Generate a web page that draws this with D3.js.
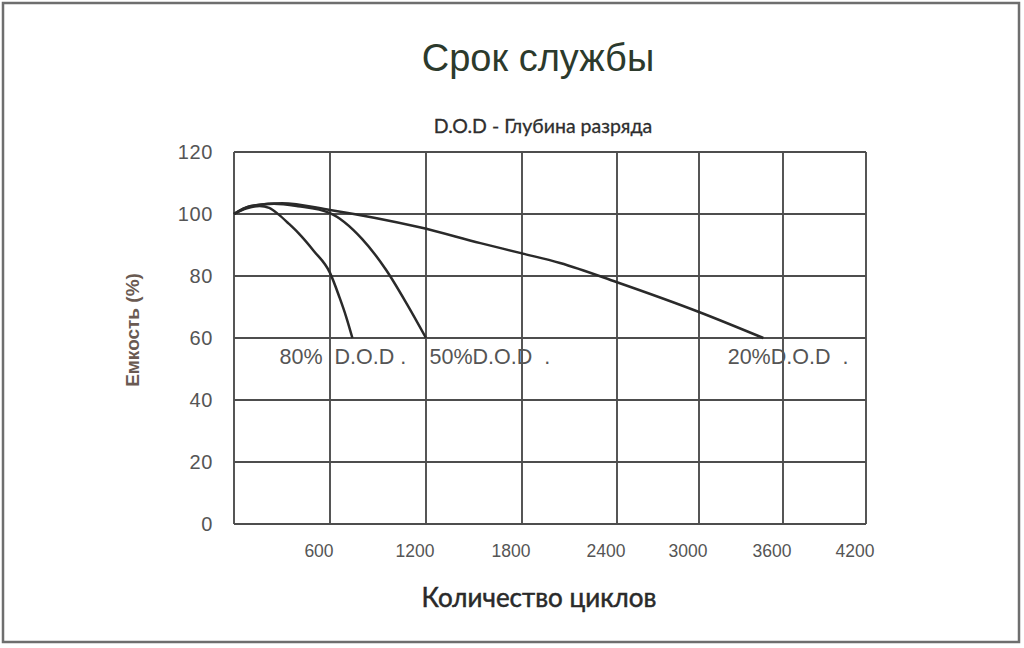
<!DOCTYPE html>
<html>
<head>
<meta charset="utf-8">
<script src="https://cdn.jsdelivr.net/npm/d3@7"></script>
<style>
  body { margin: 0; background: #fff; }
  svg { display: block; }
</style>
</head>
<body>
<svg id="chart" width="1024" height="648"></svg>
<script>
// x tick labels (cycles) and y tick labels (capacity %)
const xTicks = [0, 600, 1200, 1800, 2400, 3000, 3600, 4200];
const yTicks = [0, 20, 40, 60, 80, 100, 120];

// capacity curves: [cycles, capacity %]
const dod80 = [[0, 100], [80, 101.8], [160, 102.6], [220, 102], [280, 99.8], [340, 97], [400, 94], [500, 88], [600, 81], [660, 73], [700, 67], [740, 60]];
const dod50 = [[0, 100], [100, 102.5], [250, 103.3], [400, 102.5], [600, 100.3], [800, 92], [950, 82], [1080, 71], [1200, 60]];
const dod20 = [[0, 100], [100, 102.5], [300, 103.5], [600, 101.3], [1160, 95.7], [1540, 90.6], [1800, 87.3], [2040, 84.2], [2400, 78], [3000, 68.4], [3460, 60]];

const seriesData = [dod80, dod50, dod20];

// curve labels and the cycle value where each one starts
const labelText = ["80%  D.O.D .", "50%D.O.D  .", "20%D.O.D  ."];
const labelStart = [285, 1222, 3205];

const svg = d3.select('#chart');

// outer frame
svg.append('rect')
  .attr('x', 3).attr('y', 3)
  .attr('width', 1016).attr('height', 639)
  .attr('fill', '#fff')
  .attr('stroke', '#6e6e6e')
  .attr('stroke-width', 2.5);

const plotLeft = 234, plotRight = 866, plotTop = 152, plotBottom = 524;

// the grid in the original is not evenly spaced, so map each tick to its column
const colEdges = [0, 96, 192, 288, 383, 465, 549, 632];
const x = d3.scaleLinear()
  .domain(xTicks)
  .range(colEdges.map(d => plotLeft + d));
const y = d3.scaleLinear().domain([0, 120]).range([plotBottom, plotTop]);

const grid = svg.append('g');

grid.selectAll('.hline')
  .data(yTicks)
  .join('line')
  .attr('class', 'hline')
  .attr('x1', plotLeft).attr('x2', plotRight)
  .attr('y1', d => y(d)).attr('y2', d => y(d))
  .attr('stroke', '#4d4d4d')
  .attr('stroke-width', 1.9);

grid.selectAll('.vline')
  .data(xTicks)
  .join('line')
  .attr('class', 'vline')
  .attr('x1', d => x(d)).attr('x2', d => x(d))
  .attr('y1', plotTop).attr('y2', plotBottom)
  .attr('stroke', '#4d4d4d')
  .attr('stroke-width', 1.9);

// tick labels
svg.append('g').selectAll('text')
  .data(yTicks)
  .join('text')
  .attr('x', 213)
  .attr('y', d => y(d) + 7)
  .attr('text-anchor', 'end')
  .attr('font-family', 'Liberation Sans, Arial, sans-serif')
  .attr('font-size', 20)
  .attr('letter-spacing', 0.6)
  .attr('fill', '#555')
  .text(d => d);

svg.append('g').selectAll('text')
  .data(xTicks.slice(1))
  .join('text')
  .attr('x', d => x(d) - 11)
  .attr('y', 557)
  .attr('text-anchor', 'middle')
  .attr('font-family', 'Liberation Sans, Arial, sans-serif')
  .attr('font-size', 17.5)
  .attr('fill', '#555')
  .text(d => d);

// curves
const line = d3.line()
  .x(d => x(d[0]))
  .y(d => y(d[1]))
  .curve(d3.curveMonotoneX);

svg.append('g').selectAll('path')
  .data(seriesData)
  .join('path')
  .attr('d', line)
  .attr('fill', 'none')
  .attr('stroke', '#2a2a2a')
  .attr('stroke-width', 2.5);

svg.append('g').selectAll('text')
  .data(labelText)
  .join('text')
  .attr('x', (d, i) => x(labelStart[i]))
  .attr('y', 364)
  .attr('font-family', 'Liberation Sans, Arial, sans-serif')
  .attr('font-size', 21.5)
  .attr('fill', '#555')
  .style('white-space', 'pre')
  .text(d => d);

// titles
svg.append('text')
  .attr('x', 538).attr('y', 71)
  .attr('text-anchor', 'middle')
  .attr('font-family', 'Liberation Sans, Arial, sans-serif')
  .attr('font-size', 38)
  .attr('fill', '#2c3a2c')
  .text('Срок службы');

svg.append('text')
  .attr('x', 543).attr('y', 133)
  .attr('text-anchor', 'middle')
  .attr('font-family', 'Lato, sans-serif')
  .attr('font-size', 19.5)
  .attr('fill', '#2e2e2e')
  .attr('stroke', '#2e2e2e')
  .attr('stroke-width', 0.3)
  .text('D.O.D - Глубина разряда');

svg.append('text')
  .attr('x', 539).attr('y', 607)
  .attr('text-anchor', 'middle')
  .attr('font-family', 'Lato, sans-serif')
  .attr('font-size', 26)
  .attr('fill', '#2a2a2a')
  .attr('stroke', '#2a2a2a')
  .attr('stroke-width', 0.5)
  .text('Количество циклов');

svg.append('text')
  .attr('transform', 'translate(139,330) rotate(-90)')
  .attr('text-anchor', 'middle')
  .attr('font-family', 'Liberation Sans, Arial, sans-serif')
  .attr('font-size', 19)
  .attr('font-weight', 'bold')
  .attr('fill', '#6a5a52')
  .text('Емкость (%)');
</script>
</body>
</html>
